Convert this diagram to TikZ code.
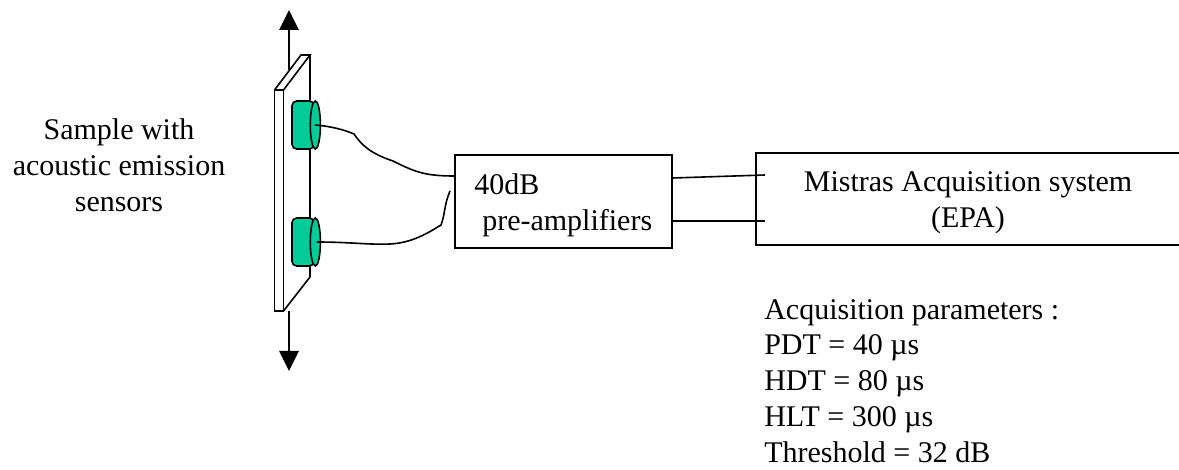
\documentclass[tikz,border=0pt]{standalone}
\usepackage{fontspec}
\usetikzlibrary{arrows.meta}
\setmainfont{Liberation Serif}
\definecolor{sensorgreen}{RGB}{0,204,153}
\tikzset{
    wire/.style={line width=1.2pt},
    box/.style={draw, line width=1.2pt, inner sep=0},
    sensor/.style={draw, line width=1.2pt, rounded corners=3.5pt, inner sep=0,
    minimum height=36pt, minimum width=16.5pt, fill=sensorgreen},
    sensorend/.style={draw, line width=1.2pt, fill=sensorgreen},
    loadarrow/.style={line width=1.2pt, -{Triangle[length=15pt, width=14.5pt]}},
    caption/.style={font=\fontsize{22.5}{27}\selectfont, inner sep=0},
}

\begin{document}
\begin{tikzpicture}[x=0.75pt, y=-0.75pt]
    \useasboundingbox (0, 0) rectangle (1179, 470);

    % Plate
    \draw[wire] (274.5, 90) -- (301, 55) -- (310, 55) -- (283.5, 90);
    \draw[wire] (310, 55) -- (310, 277) -- (283.5, 311);
    \draw[wire, fill=white] (274.5, 90) rectangle (283.5, 311);

    % Load arrows
    \coordinate (UpStart) at (289, 70);
    \coordinate (UpEnd) at (289, 10);
    \coordinate (DownStart) at (289, 311);
    \coordinate (DownEnd) at (289, 371);
    \draw[loadarrow] (UpStart) -- (UpEnd);
    \draw[loadarrow] (DownStart) -- (DownEnd);

    % Sensors
    \node[sensor] (SensorA) at (303, 125) {};
    \node[sensor] (SensorB) at (303, 242) {};
    \foreach \s in {SensorA, SensorB}
    \draw[sensorend] ([xshift=0.4pt]\s.east) ellipse [x radius=3.8pt, y radius=18pt];

    % Boxes
    \node[box, minimum width=162.5pt, minimum height=69.5pt] (Amp) at (563.5, 201.5) {};
    \draw[wire] (1179, 153) coordinate (SysTop) -- (756, 153) coordinate (SysTL)
    -- (756, 245) coordinate (SysBL) -- (1179, 245) coordinate (SysBot);

    % Wires
    \coordinate (AmpGap) at (450, 191);
    \coordinate (SysInA) at (765, 175);
    \coordinate (SysInB) at (765, 221);
    \draw[wire] (SensorA.east)
    .. controls (330, 126) and (345, 130) .. (354, 134)
    .. controls (362, 146) and (372, 154) .. (393, 161)
    .. controls (415, 172) and (425, 176) .. (Amp.west |- 0, 176);
    \draw[wire] ([xshift=1.5pt]SensorB.east)
    .. controls (350, 242) and (370, 245) .. (390, 244)
    .. controls (410, 243) and (425, 235) .. (441, 225)
    .. controls (445, 215) and (444, 205) .. (AmpGap);
    \draw[wire] (Amp.east |- 0, 178) -- (SysInA);
    \draw[wire] (Amp.east |- 0, 221) -- (SysInB);

    % Labels
    \node[caption, align=center] (Sample) at (119, 165.5) {Sample with\\acoustic emission\\sensors};
    \node[caption, anchor=base west] (AmpA) at (474, 195) {40dB};
    \node[caption, anchor=base west] (AmpB) at (482, 231) {pre-amplifiers};
    \node[caption, anchor=base] (SysA) at (968, 192) {Mistras Acquisition system};
    \node[caption, anchor=base] (SysB) at (968, 228) {(EPA)};
    \node[caption, font=\fontsize{22.5}{26.8}\selectfont, align=left, anchor=north west] (Params) at (764, 299)
    {Acquisition parameters :\\PDT = 40 µs\\HDT = 80 µs\\HLT = 300 µs\\Threshold = 32 dB};
\end{tikzpicture}
\end{document}
